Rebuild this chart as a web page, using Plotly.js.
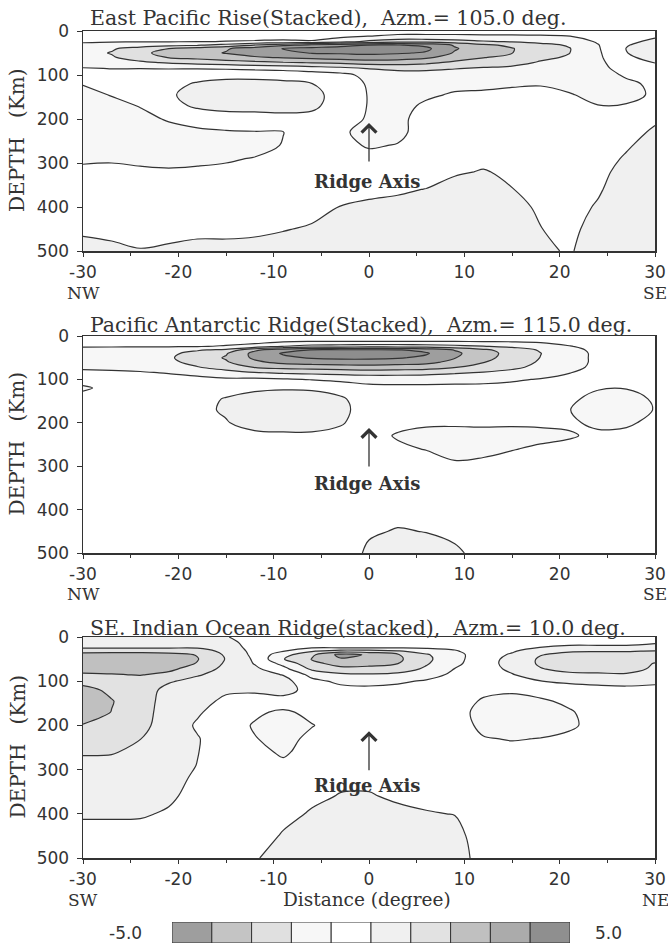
<!DOCTYPE html>
<html>
<head>
<meta charset="utf-8">
<script src="https://cdn.plot.ly/plotly-3.0.1.min.js"></script>
<style>html,body{margin:0;padding:0;background:#fff;}#chart{width:668px;height:945px;}</style>
</head>
<body>
<div id="chart"></div>
<script>
// ---- grid (distance in degrees, depth in km) ----
const xDeg = [-30,-27,-24,-21,-18,-15,-12,-9,-6,-3,0,3,6,9,12,15,18,21,24,27,30];
const depthKm = [0,12,24,32,40,50,60,72,85,100,120,145,170,200,230,260,290,320,360,400,450,500];

// ---- East Pacific Rise: one depth profile per distance column ----
const eprColumns = [
 [-0.5,-0.7,-0.9,-1.2,-1.6,-1.7,-1.7,-1.4,-0.95,-0.7,-0.95,-1.3,-1.5,-1.6,-1.6,-1.5,-1.15,-0.8,-0.6,-0.5,-0.2,0.4],
 [-0.5,-0.7,-0.95,-1.3,-1.9,-2.05,-1.9,-1.5,-1.02,-0.7,-0.65,-0.95,-1.3,-1.5,-1.6,-1.5,-1.1,-0.8,-0.6,-0.5,-0.3,0.25],
 [-0.5,-0.7,-0.95,-1.5,-2.4,-2.8,-2.5,-1.8,-1.02,-0.6,-0.5,-0.6,-0.95,-1.3,-1.55,-1.5,-1.2,-0.85,-0.6,-0.5,-0.35,0.05],
 [-0.5,-0.7,-0.95,-1.7,-3.0,-3.3,-3.05,-2.1,-1.05,-0.5,-0.3,-0.15,-0.3,-0.9,-1.35,-1.5,-1.25,-0.9,-0.6,-0.5,-0.3,0.15],
 [-0.5,-0.75,-0.98,-1.9,-3.4,-3.7,-3.3,-2.3,-1.05,-0.4,0.1,0.4,0.15,-0.6,-1.2,-1.5,-1.2,-0.85,-0.6,-0.5,-0.25,0.3],
 [-0.5,-0.75,-1.02,-2.3,-3.9,-4.05,-3.6,-2.5,-1.1,-0.3,0.3,0.55,0.3,-0.4,-1.1,-1.45,-1.1,-0.8,-0.6,-0.5,-0.25,0.3],
 [-0.5,-0.8,-1.05,-3.05,-4.5,-4.4,-3.9,-2.7,-1.2,-0.3,0.3,0.55,0.3,-0.35,-1.05,-1.35,-0.95,-0.75,-0.6,-0.5,-0.2,0.35],
 [-0.5,-0.8,-1.1,-3.8,-5.05,-4.7,-4.1,-2.9,-1.3,-0.35,0.2,0.5,0.35,-0.3,-1.02,-0.95,-0.7,-0.6,-0.55,-0.45,-0.05,0.4],
 [-0.4,-0.6,-1.1,-4.3,-5.3,-5.05,-4.3,-3.05,-1.5,-0.5,0.02,0.3,0.2,-0.3,-0.5,-0.55,-0.55,-0.5,-0.4,-0.3,0.1,0.45],
 [-0.45,-0.8,-1.6,-4.6,-5.5,-5.1,-4.5,-3.2,-1.7,-0.7,-0.5,-0.4,-0.45,-0.6,-0.85,-0.7,-0.5,-0.4,-0.25,0.02,0.35,0.5],
 [-0.5,-1.02,-2.2,-5.05,-5.6,-5.2,-4.6,-3.4,-2.05,-1.3,-1.1,-1.05,-1.05,-1.1,-1.3,-1.1,-0.7,-0.5,-0.2,0.15,0.45,0.5],
 [-0.6,-1.2,-2.6,-5.05,-5.5,-5.1,-4.5,-3.4,-2.2,-1.6,-1.4,-1.35,-1.3,-1.25,-1.25,-0.95,-0.7,-0.5,-0.1,0.2,0.5,0.5],
 [-0.6,-1.2,-2.6,-4.8,-5.2,-4.9,-4.2,-3.2,-2.2,-1.6,-1.4,-1.15,-0.85,-0.6,-0.55,-0.5,-0.45,-0.35,0.02,0.3,0.5,0.5],
 [-0.6,-1.2,-2.4,-3.9,-4.1,-3.9,-3.5,-2.8,-2.05,-1.5,-1.25,-0.9,-0.65,-0.5,-0.45,-0.4,-0.3,-0.1,0.3,0.5,0.5,0.5],
 [-0.6,-1.15,-2.1,-3.2,-3.4,-3.3,-3.05,-2.5,-1.9,-1.45,-1.2,-0.85,-0.6,-0.5,-0.45,-0.35,-0.2,0.05,0.4,0.5,0.5,0.5],
 [-0.6,-1.15,-1.9,-2.8,-3.05,-3.02,-2.7,-2.3,-1.8,-1.4,-1.1,-0.8,-0.6,-0.5,-0.45,-0.4,-0.3,-0.15,0.02,0.3,0.5,0.5],
 [-0.6,-1.1,-1.7,-2.3,-2.45,-2.4,-2.2,-1.9,-1.6,-1.3,-1.05,-0.8,-0.6,-0.5,-0.45,-0.45,-0.4,-0.35,-0.25,-0.15,0.02,0.2],
 [-0.6,-1.02,-1.5,-1.9,-2.05,-2.02,-1.9,-1.7,-1.5,-1.35,-1.2,-0.95,-0.7,-0.55,-0.5,-0.45,-0.45,-0.4,-0.35,-0.3,-0.2,-0.1],
 [-0.5,-0.7,-0.9,-1.05,-1.1,-1.15,-1.2,-1.25,-1.3,-1.35,-1.3,-1.2,-0.98,-0.7,-0.5,-0.4,-0.35,-0.25,-0.1,0.08,0.3,0.5],
 [-0.5,-0.45,-0.2,-0.05,0.02,-0.02,-0.1,-0.35,-0.6,-0.9,-1.15,-1.2,-0.95,-0.6,-0.35,-0.1,0.1,0.3,0.45,0.5,0.5,0.5],
 [-0.4,-0.1,0.2,0.35,0.4,0.35,0.2,0.02,-0.3,-0.6,-0.85,-0.9,-0.7,-0.15,0.15,0.35,0.45,0.5,0.5,0.5,0.5,0.5]
];

// ---- Pacific Antarctic Ridge ----
const parColumns = [
 [-0.5,-0.7,-0.95,-1.2,-1.4,-1.45,-1.4,-1.15,-0.8,-0.6,-1.15,-0.6,-0.5,-0.5,-0.5,-0.5,-0.5,-0.5,-0.5,-0.5,-0.5,-0.5],
 [-0.5,-0.7,-0.95,-1.25,-1.5,-1.55,-1.45,-1.2,-0.85,-0.6,-0.7,-0.55,-0.5,-0.5,-0.5,-0.5,-0.5,-0.5,-0.5,-0.5,-0.5,-0.5],
 [-0.5,-0.7,-0.95,-1.3,-1.6,-1.7,-1.6,-1.3,-0.9,-0.6,-0.5,-0.45,-0.5,-0.5,-0.5,-0.5,-0.5,-0.5,-0.5,-0.5,-0.5,-0.5],
 [-0.5,-0.7,-0.95,-1.4,-1.8,-1.9,-1.8,-1.5,-1.05,-0.6,-0.45,-0.4,-0.4,-0.45,-0.5,-0.5,-0.5,-0.5,-0.5,-0.5,-0.5,-0.5],
 [-0.5,-0.75,-0.97,-1.9,-2.3,-2.4,-2.3,-1.95,-1.3,-0.7,-0.4,-0.25,-0.2,-0.3,-0.4,-0.5,-0.5,-0.5,-0.5,-0.5,-0.5,-0.5],
 [-0.5,-0.8,-1.05,-2.2,-2.9,-3.1,-2.9,-2.4,-1.6,-0.85,-0.3,0.05,0.1,-0.05,-0.35,-0.5,-0.5,-0.5,-0.5,-0.5,-0.5,-0.5],
 [-0.5,-0.65,-1.4,-3.8,-4.3,-4.2,-3.8,-3.05,-1.9,-0.8,-0.2,0.4,0.5,0.3,-0.2,-0.4,-0.5,-0.5,-0.5,-0.5,-0.5,-0.5],
 [-0.5,-0.85,-2.05,-4.6,-5.1,-4.8,-4.3,-3.3,-2.1,-0.9,-0.1,0.5,0.55,0.35,-0.15,-0.4,-0.5,-0.5,-0.5,-0.5,-0.5,-0.5],
 [-0.5,-0.95,-2.4,-5.05,-5.4,-5.1,-4.5,-3.4,-2.2,-1.05,-0.15,0.5,0.55,0.35,-0.15,-0.4,-0.5,-0.5,-0.5,-0.5,-0.5,-0.5],
 [-0.5,-0.95,-2.5,-5.1,-5.5,-5.2,-4.6,-3.5,-2.3,-1.2,-0.4,0.15,0.25,0.1,-0.3,-0.45,-0.5,-0.5,-0.5,-0.5,-0.5,-0.5],
 [-0.5,-0.95,-2.6,-5.1,-5.5,-5.2,-4.6,-3.6,-2.4,-1.3,-0.75,-0.55,-0.45,-0.5,-0.6,-0.55,-0.5,-0.45,-0.4,-0.3,-0.1,0.15],
 [-0.5,-0.95,-2.6,-5.05,-5.4,-5.1,-4.5,-3.5,-2.4,-1.3,-0.8,-0.55,-0.5,-0.7,-1.1,-0.8,-0.55,-0.45,-0.4,-0.25,0.05,0.4],
 [-0.5,-0.95,-2.5,-4.7,-5.1,-4.8,-4.3,-3.4,-2.3,-1.3,-0.8,-0.55,-0.6,-0.75,-1.5,-1.05,-0.6,-0.5,-0.45,-0.3,-0.02,0.3],
 [-0.5,-0.95,-2.3,-3.95,-4.2,-4.05,-3.7,-3.05,-2.1,-1.25,-0.8,-0.6,-0.6,-0.8,-1.5,-1.4,-0.95,-0.6,-0.5,-0.4,-0.2,0.15],
 [-0.5,-0.9,-2.05,-3.2,-3.4,-3.3,-3.05,-2.6,-1.9,-1.2,-0.8,-0.6,-0.6,-0.8,-1.4,-1.3,-0.85,-0.6,-0.5,-0.45,-0.4,-0.3],
 [-0.5,-0.9,-1.8,-2.5,-2.65,-2.6,-2.45,-2.2,-1.7,-1.1,-0.75,-0.55,-0.6,-0.85,-1.35,-1.05,-0.7,-0.55,-0.5,-0.5,-0.5,-0.5],
 [-0.5,-0.8,-1.5,-1.9,-2.02,-1.98,-1.9,-1.75,-1.4,-0.95,-0.7,-0.55,-0.6,-0.85,-1.25,-0.85,-0.6,-0.5,-0.5,-0.5,-0.5,-0.5],
 [-0.5,-0.65,-1.05,-1.25,-1.3,-1.3,-1.3,-1.25,-1.02,-0.75,-0.6,-0.75,-0.97,-0.85,-1.1,-0.7,-0.55,-0.5,-0.5,-0.5,-0.5,-0.5],
 [-0.5,-0.55,-0.7,-0.8,-0.85,-0.85,-0.85,-0.8,-0.75,-0.75,-0.9,-1.4,-1.55,-1.2,-0.8,-0.6,-0.5,-0.5,-0.5,-0.5,-0.5,-0.5],
 [-0.5,-0.5,-0.55,-0.6,-0.6,-0.6,-0.6,-0.6,-0.65,-0.75,-0.95,-1.45,-1.55,-1.15,-0.75,-0.55,-0.5,-0.5,-0.5,-0.5,-0.5,-0.5],
 [-0.5,-0.5,-0.5,-0.5,-0.5,-0.5,-0.5,-0.5,-0.5,-0.5,-0.6,-0.85,-0.95,-0.75,-0.55,-0.5,-0.5,-0.5,-0.5,-0.5,-0.5,-0.5]
];

// ---- SE. Indian Ocean Ridge ----
const seirColumns = [
 [0.6,0.7,0.9,1.7,2.3,2.6,2.6,2.3,1.9,1.7,2.3,2.6,2.5,1.95,1.5,1.15,0.6,0.5,0.4,0.1,-0.3,-0.5],
 [0.6,0.7,0.9,1.7,2.4,2.7,2.7,2.4,1.95,1.6,1.8,2.05,1.98,1.8,1.5,1.1,0.6,0.5,0.4,0.1,-0.3,-0.5],
 [0.6,0.7,0.9,1.7,2.4,2.7,2.7,2.4,2.05,1.6,1.5,1.45,1.4,1.3,1.02,0.7,0.55,0.5,0.4,0.1,-0.35,-0.5],
 [0.6,0.7,0.9,1.6,2.3,2.5,2.5,2.2,1.8,1.1,0.7,0.6,0.55,0.5,0.5,0.45,0.4,0.3,0.15,-0.1,-0.4,-0.5],
 [0.6,0.7,0.9,1.5,1.95,2.05,1.95,1.6,1.1,0.7,0.55,0.35,0.1,-0.1,0.05,0.03,-0.02,-0.15,-0.3,-0.45,-0.5,-0.5],
 [0.05,0.3,0.5,0.7,0.85,0.95,0.85,0.7,0.6,0.45,0.15,-0.2,-0.4,-0.45,-0.45,-0.5,-0.5,-0.5,-0.5,-0.5,-0.5,-0.5],
 [-0.4,-0.4,-0.35,-0.3,-0.25,-0.15,-0.05,0.2,0.4,0.45,0.15,-0.4,-0.8,-1.1,-0.95,-0.7,-0.55,-0.5,-0.5,-0.5,-0.5,-0.1],
 [-0.5,-0.55,-0.7,-0.95,-1.6,-1.95,-1.3,-0.7,-0.05,0.35,0.3,-0.3,-1.2,-1.4,-1.35,-1.15,-0.8,-0.55,-0.45,-0.3,0.1,0.45],
 [-0.5,-0.6,-0.9,-1.9,-2.8,-3.05,-2.7,-2.2,-1.3,-0.75,-0.3,-0.45,-0.7,-1.05,-0.75,-0.6,-0.5,-0.4,-0.2,0.1,0.4,0.5],
 [-0.5,-0.6,-0.9,-2.5,-4.3,-3.9,-3.4,-2.7,-1.8,-1.2,-0.7,-0.5,-0.5,-0.55,-0.55,-0.5,-0.4,-0.2,0.05,0.3,0.5,0.5],
 [-0.5,-0.6,-0.9,-2.4,-3.9,-3.7,-3.3,-2.7,-1.9,-1.3,-0.75,-0.5,-0.5,-0.5,-0.5,-0.45,-0.35,-0.15,0.05,0.3,0.5,0.5],
 [-0.5,-0.6,-0.9,-2.1,-3.1,-3.2,-3.02,-2.5,-1.8,-1.15,-0.7,-0.5,-0.5,-0.5,-0.5,-0.45,-0.4,-0.3,-0.1,0.15,0.5,0.5],
 [-0.5,-0.6,-0.85,-1.6,-2.1,-2.2,-2.1,-1.85,-1.4,-0.9,-0.6,-0.5,-0.5,-0.5,-0.5,-0.5,-0.45,-0.4,-0.2,0.05,0.4,0.5],
 [-0.5,-0.55,-0.8,-1.1,-1.35,-1.35,-1.25,-0.98,-0.8,-0.6,-0.55,-0.6,-0.65,-0.6,-0.55,-0.5,-0.5,-0.45,-0.3,-0.02,0.25,0.4],
 [-0.5,-0.5,-0.5,-0.45,-0.4,-0.35,-0.35,-0.4,-0.5,-0.6,-0.8,-1.1,-1.3,-1.2,-0.95,-0.7,-0.55,-0.5,-0.5,-0.45,-0.4,-0.35],
 [-0.5,-0.45,-0.3,-0.1,0.1,0.25,0.3,0.2,-0.05,-0.45,-0.85,-1.3,-1.45,-1.4,-1.05,-0.75,-0.6,-0.5,-0.5,-0.5,-0.5,-0.5],
 [-0.5,-0.3,0.02,0.5,0.95,1.15,1.15,0.95,0.5,-0.02,-0.6,-1.15,-1.35,-1.35,-0.98,-0.7,-0.55,-0.5,-0.5,-0.5,-0.5,-0.5],
 [-0.5,-0.2,0.15,0.9,1.3,1.45,1.45,1.3,0.8,0.15,-0.4,-0.8,-1.1,-1.15,-0.8,-0.6,-0.5,-0.5,-0.5,-0.5,-0.5,-0.5],
 [-0.5,-0.2,0.15,0.95,1.35,1.5,1.5,1.35,0.85,0.25,-0.3,-0.5,-0.6,-0.7,-0.6,-0.5,-0.5,-0.5,-0.5,-0.5,-0.5,-0.5],
 [-0.5,-0.2,0.15,0.95,1.35,1.5,1.5,1.35,0.9,0.3,-0.25,-0.45,-0.5,-0.5,-0.5,-0.5,-0.5,-0.5,-0.5,-0.5,-0.5,-0.5],
 [-0.5,-0.1,0.3,1.05,1.3,1.25,0.95,0.85,0.6,0.2,-0.3,-0.5,-0.5,-0.5,-0.5,-0.5,-0.5,-0.5,-0.5,-0.5,-0.5,-0.5]
];

// ---- text / ticks ----
const panelTitles = [
  'East Pacific Rise(Stacked),  Azm.= 105.0 deg.',
  'Pacific Antarctic Ridge(Stacked),  Azm.= 115.0 deg.',
  'SE. Indian Ocean Ridge(stacked),  Azm.= 10.0 deg.'
];
const leftEnds = ['NW','NW','SW'];
const rightEnds = ['SE','SE','NE'];
const xTickVals = [-30,-20,-10,0,10,20,30];
const xTickText = ['-30','-20','-10','0','10','20','30'];
const yTickVals = [0,100,200,300,400,500];
const yTickText = ['0','100','200','300','400','500'];
const ridgeTip = [209,212,213];
const ridgeTail = [300,304,305];
const ridgeLabelDepth = [341,339,335];

// ---- legend (colour key) ----
const keyMid = [-4.5,-3.5,-2.5,-1.5,-0.5,0.5,1.5,2.5,3.5,4.5];
const keyEnds = ['-5.0','5.0'];
// band colours: below -5, -5..-4, ..., 4..5, above 5
const bandColors = ['#8e8e8e','#9e9e9e','#c4c4c4','#e0e0e0','#f7f7f7','#ffffff',
                    '#f0f0f0','#e2e2e2','#c0c0c0','#ababab','#8f8f8f','#808080'];

const colorscale = bandColors.map((c,i)=>[i/(bandColors.length-1), c]);

const SERIF = 'DejaVu Serif';
const SANS = 'DejaVu Sans';
const INK = '#333';
const W = 668, H = 945;
const px2x = v => v / W;
const px2y = v => 1 - v / H;

const xDom = [px2x(83), px2x(655)];
const yDoms = [[px2y(251), px2y(31)], [px2y(553), px2y(336)], [px2y(858), px2y(637)]];
const titleY = [18, 325, 628];
const endLabelY = [293, 594, 900];
const panelCenterY = [141, 444.5, 747.5];

const datasets = [eprColumns, parColumns, seirColumns];
const traces = [];
const layout = {
  width: W, height: H,
  margin: {l:0, r:0, t:0, b:0},
  paper_bgcolor: '#fff', plot_bgcolor: '#fff',
  showlegend: false,
  bargap: 0,
  font: {family: SANS, color: INK, size: 17},
  annotations: []
};

datasets.forEach((cols, i) => {
  const n = i === 0 ? '' : String(i + 1);
  traces.push({
    type: 'contour',
    x: xDeg, y: depthKm, z: cols, transpose: true,
    xaxis: 'x' + n, yaxis: 'y' + n,
    autocontour: false,
    contours: {start: -5, end: 5, size: 1, coloring: 'fill', showlines: true},
    line: {color: INK, width: 1.2, smoothing: 1.0},
    colorscale: colorscale,
    showscale: false,
    hoverinfo: 'skip'
  });
  layout['xaxis' + n] = {
    domain: xDom, anchor: 'y' + n, range: [-30, 30],
    tickmode: 'array', tickvals: xTickVals, ticktext: xTickText,
    ticks: 'outside', ticklen: 4, tickcolor: INK, tickwidth: 1,
    minor: {tickmode: 'linear', tick0: -30, dtick: 5, ticks: 'outside', ticklen: 3, tickcolor: INK},
    showline: true, linecolor: INK, linewidth: 1.5, mirror: true,
    showgrid: false, zeroline: false,
    tickfont: {family: SANS, size: 17, color: INK},
    ticklabelstandoff: 1
  };
  layout['yaxis' + n] = {
    domain: yDoms[i], anchor: 'x' + n, range: [500, 0],
    tickmode: 'array', tickvals: yTickVals, ticktext: yTickText,
    ticks: 'outside', ticklen: 5, tickcolor: INK,
    showline: true, linecolor: INK, linewidth: 1.5, mirror: true,
    showgrid: false, zeroline: false,
    tickfont: {family: SANS, size: 17, color: INK},
    ticklabelstandoff: 4
  };
  const A = layout.annotations;
  A.push({xref:'paper', yref:'paper', x: px2x(88), y: px2y(titleY[i]), xanchor:'left', yanchor:'middle',
          text: panelTitles[i], showarrow:false, font:{family: SERIF, size: 20.5, color: INK}});
  A.push({xref:'paper', yref:'paper', x: px2x(17), y: px2y(panelCenterY[i]), xanchor:'center', yanchor:'middle',
          text: 'DEPTH   (Km)', textangle: -90, showarrow:false, font:{family: SERIF, size: 20, color: INK}});
  A.push({xref:'x' + n, yref:'paper', x: -30, y: px2y(endLabelY[i]), xanchor:'center', yanchor:'middle',
          text: leftEnds[i], showarrow:false, font:{family: SERIF, size: 17, color: INK}});
  A.push({xref:'x' + n, yref:'paper', x: 30, y: px2y(endLabelY[i]), xanchor:'center', yanchor:'middle',
          text: rightEnds[i], showarrow:false, font:{family: SERIF, size: 17, color: INK}});
  A.push({xref:'x' + n, yref:'y' + n, x: 0, y: ridgeTip[i], ax: 0, ay: ridgeTail[i],
          axref:'x' + n, ayref:'y' + n, text:'', showarrow:true,
          arrowhead: 4, arrowsize: 2.2, arrowwidth: 1.3, arrowcolor: INK});
  A.push({xref:'x' + n, yref:'y' + n, x: -0.2, y: ridgeLabelDepth[i], xanchor:'center', yanchor:'middle',
          text: '<b>Ridge Axis</b>', showarrow:false, font:{family: SERIF, size: 18, color: INK}});
});

layout.annotations.push({xref:'paper', yref:'paper', x: px2x(367), y: px2y(899), xanchor:'center', yanchor:'middle',
  text: 'Distance (degree)', showarrow:false, font:{family: SERIF, size: 18.5, color: INK}});
layout.annotations.push({xref:'paper', yref:'paper', x: px2x(126), y: px2y(933), xanchor:'center', yanchor:'middle',
  text: keyEnds[0], showarrow:false, font:{family: SANS, size: 17, color: INK}});
layout.annotations.push({xref:'paper', yref:'paper', x: px2x(608), y: px2y(933), xanchor:'center', yanchor:'middle',
  text: keyEnds[1], showarrow:false, font:{family: SANS, size: 17, color: INK}});

// colour key as a bar strip
traces.push({
  type: 'bar', x: keyMid, y: keyMid.map(() => 1), width: keyMid.map(() => 1),
  xaxis: 'x4', yaxis: 'y4',
  marker: {color: keyMid.map((v) => bandColors[Math.round(v + 5.5)]), line: {color: INK, width: 1}},
  hoverinfo: 'skip'
});
layout.xaxis4 = {domain: [px2x(172), px2x(570)], anchor: 'y4', range: [-5, 5], visible: false, fixedrange: true};
layout.yaxis4 = {domain: [px2y(943), px2y(922)], anchor: 'x4', range: [0, 1], visible: false, fixedrange: true};

Plotly.newPlot('chart', traces, layout, {staticPlot: true, displayModeBar: false});
</script>
</body>
</html>
